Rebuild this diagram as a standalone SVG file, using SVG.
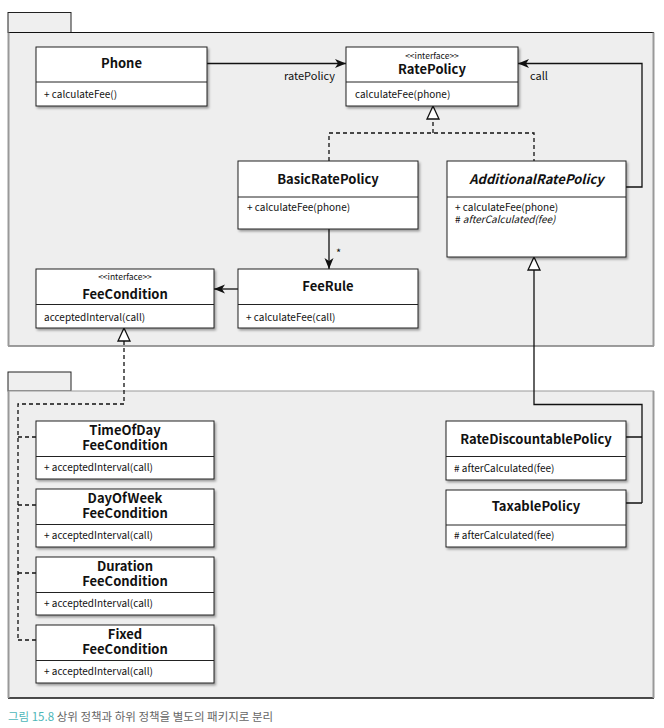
<svg xmlns="http://www.w3.org/2000/svg" width="664" height="728" viewBox="0 0 664 728">
<style>
text{font-family:"Noto Sans CJK KR","Noto Sans","Liberation Sans",sans-serif;fill:#111}
.t{font-size:13px;font-weight:bold;text-anchor:middle}
.ti{font-size:13px;font-weight:bold;font-style:italic;text-anchor:middle}
.s{font-size:8.5px;text-anchor:middle}
.m{font-size:10px}
.mi{font-size:10px;font-style:italic}
.box{fill:#fff;stroke:#222;stroke-width:1}
.div{stroke:#222;stroke-width:1}
.pkg{fill:#eeeeee}
.c{fill:none;stroke:#111;stroke-width:1.3}
.d{fill:none;stroke:#111;stroke-width:1.3;stroke-dasharray:4 3}
.tri{fill:#fff;stroke:#111;stroke-width:1.3}
</style>
<defs>
<filter id="sh" x="-10%" y="-10%" width="130%" height="140%">
<feDropShadow dx="1.5" dy="2" stdDeviation="1" flood-color="#000" flood-opacity="0.35"/>
</filter>
<marker id="arr" markerUnits="userSpaceOnUse" markerWidth="12" markerHeight="10" refX="11" refY="5" orient="auto">
<path d="M0,0.5 L11,5 L0,9.5 L3,5 z" fill="#111"/>
</marker>
</defs>

<g id="package-top">
<rect x="8" y="12.5" width="63" height="20" fill="#efefef" stroke="#222" stroke-width="1"/>
<rect class="pkg" x="8" y="32.5" width="646" height="314"/>
<line x1="8" y1="32.5" x2="654" y2="32.5" stroke="#111" stroke-width="1.2"/>
<line x1="8" y1="346" x2="654" y2="346" stroke="#444" stroke-width="1.2"/>
<line x1="8.5" y1="32.5" x2="8.5" y2="346" stroke="#999" stroke-width="2"/>
<line x1="653.5" y1="32.5" x2="653.5" y2="346" stroke="#999" stroke-width="2"/>
</g>

<g id="package-bottom">
<rect x="8" y="372" width="63" height="19" fill="#efefef" stroke="#222" stroke-width="1"/>
<rect class="pkg" x="8" y="391" width="646" height="307"/>
<line x1="8" y1="391" x2="654" y2="391" stroke="#999" stroke-width="1.2"/>
<line x1="8" y1="698" x2="654" y2="698" stroke="#111" stroke-width="1.5"/>
<line x1="8.5" y1="391" x2="8.5" y2="698" stroke="#999" stroke-width="2"/>
<line x1="653.5" y1="391" x2="653.5" y2="698" stroke="#999" stroke-width="2"/>
</g>

<g id="connectors">
<line class="c" x1="207" y1="63.5" x2="346" y2="63.5" marker-end="url(#arr)"/>
<text class="m" x="284" y="80" style="font-size:11px">ratePolicy</text>
<polyline class="c" points="626,187 642,187 642,63.5 518,63.5" marker-end="url(#arr)"/>
<text class="m" x="530" y="80" style="font-size:11px">call</text>
<path class="d" d="M329,161 V133 H534 V161"/>
<path class="d" d="M433,133 V119"/>
<polygon class="tri" points="433,106 427,119 439,119"/>
<line class="c" x1="329" y1="229" x2="329" y2="269" marker-end="url(#arr)"/>
<text class="m" x="336" y="257" style="font-size:11px">*</text>
<line class="c" x1="238" y1="289" x2="214" y2="289" marker-end="url(#arr)"/>
<path class="d" d="M124,341 V404 H18 V640"/>
<path class="d" d="M18,437 H36 M18,505 H36 M18,573 H36 M18,640 H36"/>
<polygon class="tri" points="124,328 118,341 130,341"/>
<path class="c" d="M534,270 V404.5 H642 V503"/>
<path class="c" d="M626,437 H642 M626,503 H642"/>
<polygon class="tri" points="534,257 528,270 540,270"/>
</g>

<g id="Phone">
<rect class="box" x="36" y="47" width="171" height="59" filter="url(#sh)"/>
<line class="div" x1="36" y1="82" x2="207" y2="82"/>
<text class="t" x="121.5" y="68">Phone</text>
<text class="m" x="44" y="97.5">+ calculateFee()</text>
</g>

<g id="RatePolicy">
<rect class="box" x="346" y="47" width="172" height="59" filter="url(#sh)"/>
<line class="div" x1="346" y1="82" x2="518" y2="82"/>
<text class="s" x="432" y="59">&lt;&lt;interface&gt;&gt;</text>
<text class="t" x="432" y="74">RatePolicy</text>
<text class="m" x="355" y="97.5">calculateFee(phone)</text>
</g>

<g id="BasicRatePolicy">
<rect class="box" x="238" y="161" width="180" height="68" filter="url(#sh)"/>
<line class="div" x1="238" y1="197" x2="418" y2="197"/>
<text class="t" x="328" y="184">BasicRatePolicy</text>
<text class="m" x="247" y="211">+ calculateFee(phone)</text>
</g>

<g id="AdditionalRatePolicy">
<rect class="box" x="447" y="161" width="179" height="96" filter="url(#sh)"/>
<line class="div" x1="447" y1="197" x2="626" y2="197"/>
<text class="ti" x="536.5" y="184">AdditionalRatePolicy</text>
<text class="m" x="455" y="211">+ calculateFee(phone)</text>
<text class="mi" x="455" y="223"><tspan font-style="normal"># </tspan>afterCalculated(fee)</text>
</g>

<g id="FeeCondition">
<rect class="box" x="36" y="269" width="178" height="59" filter="url(#sh)"/>
<line class="div" x1="36" y1="304.5" x2="214" y2="304.5"/>
<text class="s" x="125" y="280">&lt;&lt;interface&gt;&gt;</text>
<text class="t" x="125" y="298.5">FeeCondition</text>
<text class="m" x="44" y="320.5">acceptedInterval(call)</text>
</g>

<g id="FeeRule">
<rect class="box" x="238" y="269" width="180" height="59" filter="url(#sh)"/>
<line class="div" x1="238" y1="304.5" x2="418" y2="304.5"/>
<text class="t" x="328" y="291">FeeRule</text>
<text class="m" x="246" y="320.5">+ calculateFee(call)</text>
</g>

<g id="TimeOfDayFeeCondition">
<rect class="box" x="36" y="421" width="178" height="58" filter="url(#sh)"/>
<line class="div" x1="36" y1="456.5" x2="214" y2="456.5"/>
<text class="t" x="125" y="435">TimeOfDay<tspan x="125" dy="15">FeeCondition</tspan></text>
<text class="m" x="44" y="471">+ acceptedInterval(call)</text>
</g>

<g id="DayOfWeekFeeCondition">
<rect class="box" x="36" y="489" width="178" height="58" filter="url(#sh)"/>
<line class="div" x1="36" y1="524.5" x2="214" y2="524.5"/>
<text class="t" x="125" y="503">DayOfWeek<tspan x="125" dy="15">FeeCondition</tspan></text>
<text class="m" x="44" y="539">+ acceptedInterval(call)</text>
</g>

<g id="DurationFeeCondition">
<rect class="box" x="36" y="557" width="178" height="58" filter="url(#sh)"/>
<line class="div" x1="36" y1="592.5" x2="214" y2="592.5"/>
<text class="t" x="125" y="571">Duration<tspan x="125" dy="15">FeeCondition</tspan></text>
<text class="m" x="44" y="607">+ acceptedInterval(call)</text>
</g>

<g id="FixedFeeCondition">
<rect class="box" x="36" y="625" width="178" height="58" filter="url(#sh)"/>
<line class="div" x1="36" y1="660.5" x2="214" y2="660.5"/>
<text class="t" x="125" y="639">Fixed<tspan x="125" dy="15">FeeCondition</tspan></text>
<text class="m" x="44" y="675">+ acceptedInterval(call)</text>
</g>

<g id="RateDiscountablePolicy">
<rect class="box" x="446" y="421" width="180" height="59" filter="url(#sh)"/>
<line class="div" x1="446" y1="456.5" x2="626" y2="456.5"/>
<text class="t" x="536" y="444">RateDiscountablePolicy</text>
<text class="m" x="454" y="471.5"># afterCalculated(fee)</text>
</g>

<g id="TaxablePolicy">
<rect class="box" x="446" y="490" width="180" height="57" filter="url(#sh)"/>
<line class="div" x1="446" y1="525" x2="626" y2="525"/>
<text class="t" x="536" y="511">TaxablePolicy</text>
<text class="m" x="454" y="539"># afterCalculated(fee)</text>
</g>

<g id="caption">
<text x="8" y="721" style="font-size:11.5px;fill:#666"><tspan style="fill:#4db6b8">그림 15.8</tspan> 상위 정책과 하위 정책을 별도의 패키지로 분리</text>
</g>
</svg>
